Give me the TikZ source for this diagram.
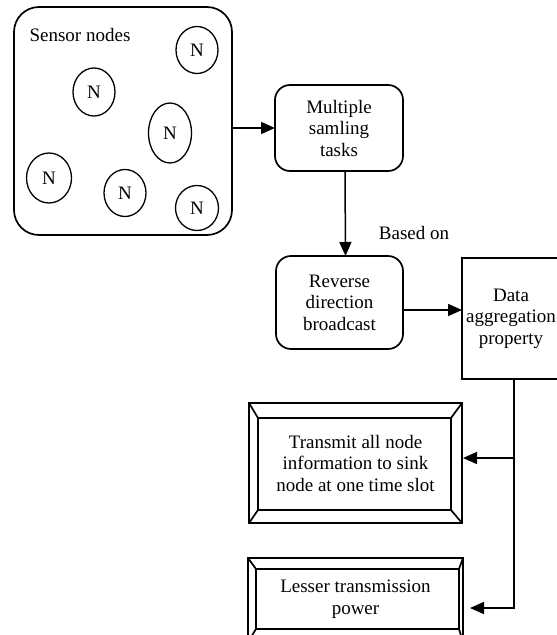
\documentclass[tikz,border=0pt]{standalone}
\usepackage{fontspec}
\setmainfont{Liberation Serif}
\usetikzlibrary{calc,arrows.meta,shapes.geometric}

% Draws the inner panel and corner bevels of a framed box
\newcommand\bevelframe[5]{%
  \coordinate (#1-ia) at ($(#1.north west)+(#2,#3)$);
  \coordinate (#1-ib) at ($(#1.south east)+(-#4,-#5)$);
  \draw[boxline] (#1-ia) rectangle (#1-ib);
  \draw[boxline] (#1.north west) -- (#1-ia);
  \draw[boxline] (#1.south east) -- (#1-ib);
  \draw[boxline] (#1.north east) -- (#1-ib |- #1-ia);
  \draw[boxline] (#1.south west) -- (#1-ia |- #1-ib);
}

\begin{document}
\begin{tikzpicture}[x=1pt,y=-1pt,
  every node/.style={font=\fontsize{19}{21.5}\selectfont, inner sep=0pt, outer sep=0pt},
  boxline/.style={line width=1.7pt},
  roundbox/.style={draw, boxline, rounded corners=15pt, align=center},
  plainbox/.style={draw, boxline, align=center},
  sensornode/.style={draw, ellipse, line width=1.3pt},
  arr/.style={line width=1.5pt, -{Triangle[length=14pt,width=12pt]}}]

\useasboundingbox (0,0) rectangle (557,635);

% sensor field
\node[draw, boxline, rounded corners=25pt, minimum width=218pt, minimum height=228pt]
  (sensor) at (123,121) {};
\node (lbl) at (80,35) {Sensor nodes};
\node[sensornode, minimum width=42pt, minimum height=47pt] (n1) at (197,50) {N};
\node[sensornode, minimum width=42pt, minimum height=48pt] (n2) at (94,92) {N};
\node[sensornode, minimum width=43pt, minimum height=60pt] (n3) at (170,133) {N};
\node[sensornode, minimum width=45pt, minimum height=50pt] (n4) at (49,178) {N};
\node[sensornode, minimum width=42pt, minimum height=47pt] (n5) at (125,193) {N};
\node[sensornode, minimum width=43pt, minimum height=45pt] (n6) at (197,208) {N};

% process boxes
\node[roundbox, minimum width=128pt, minimum height=86pt] (multi) at (339,128)
  {Multiple\\samling\\tasks};
\node[roundbox, minimum width=127pt, minimum height=93pt] (reverse) at (339.5,302.5)
  {Reverse\\direction\\broadcast};
\node[plainbox, minimum width=98pt, minimum height=121pt] (data) at (511,318.5)
  {Data\\aggregation\\property};
\node (based) at (414,233) {Based on};

% framed outcome boxes
\node[plainbox, minimum width=213pt, minimum height=120pt] (transmit) at (355.5,463)
  {Transmit all node\\information to sink\\node at one time slot};
\bevelframe{transmit}{9}{15}{11}{13}
\node[plainbox, minimum width=215pt, minimum height=84pt] (lesser) at (355.5,600) {};
\node[align=center] (lessertext) at (355.5,599) {Lesser transmission\\power};
\bevelframe{lesser}{8}{11}{4}{13}

% connectors
\draw[arr] (multi.west -| sensor.east) -- (multi.west);
\draw[arr] ([xshift=6pt]multi.south) -- ([xshift=6pt]reverse.north);
\draw[arr] ([yshift=-7.5pt]reverse.east) -- ([yshift=-7.5pt]reverse.east -| data.west);
\draw[arr] ([xshift=3pt]data.south) |- ([xshift=1pt,yshift=5pt]transmit.east);
\draw[arr] ([xshift=3pt]data.south) |- ([xshift=7pt,yshift=-8pt]lesser.east);
\end{tikzpicture}
\end{document}
